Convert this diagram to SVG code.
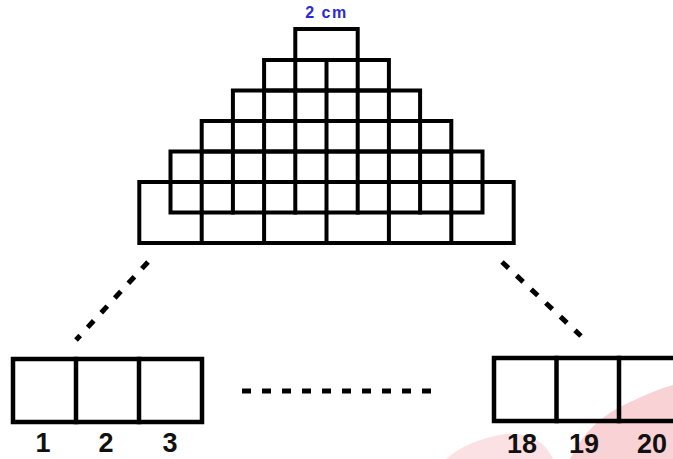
<svg xmlns="http://www.w3.org/2000/svg" width="673" height="459" viewBox="0 0 673 459">
  <style>
    .ln { fill: none; stroke: #000; stroke-width: 4; stroke-linejoin: miter; stroke-linecap: square; }
    .bx { fill: none; stroke: #000; stroke-width: 4.5; stroke-linejoin: miter; stroke-linecap: square; }
    .dash { fill: none; stroke: #000; stroke-width: 5; stroke-dasharray: 9 11; stroke-linecap: butt; }
    .num { font-family: "Liberation Sans", Arial, sans-serif; font-weight: bold; font-size: 27px; fill: #111; text-anchor: middle; }
    .dim { font-family: "Liberation Sans", Arial, sans-serif; font-weight: bold; font-size: 16px; fill: #2a2ad6; text-anchor: middle; letter-spacing: 1.5px; }
  </style>
  <rect x="0" y="0" width="673" height="459" fill="#fff"/>
  <g id="watermark">
    <path d="M 446 459 Q 468 440 505 434 Q 540 431 553 459 Z" fill="#fbe1e3"/>
    <path d="M 570 459 Q 588 421 628 403 Q 655 390 673 385 L 673 459 Z" fill="#f8d2d5"/>
  </g>
  <g id="pyramid">
    <g id="top-square">
      <rect class="ln" x="295.3" y="29" width="62.4" height="31"/>
      <text class="dim" x="326.5" y="18">2 cm</text>
    </g>
    <g id="row1">
      <rect class="ln" x="264.1" y="60" width="124.8" height="30.5"/>
      <path class="ln" d="M295.3 60V90.5M326.5 60V90.5M357.7 60V90.5"/>
    </g>
    <g id="row2">
      <rect class="ln" x="232.9" y="90.5" width="187.2" height="30.5"/>
      <path class="ln" d="M264.1 90.5V121M295.3 90.5V121M326.5 90.5V121M357.7 90.5V121M388.9 90.5V121"/>
    </g>
    <g id="row3">
      <rect class="ln" x="201.7" y="121" width="249.6" height="30.5"/>
      <path class="ln" d="M232.9 121V151.5M264.1 121V151.5M295.3 121V151.5M326.5 121V151.5M357.7 121V151.5M388.9 121V151.5M420.1 121V151.5"/>
    </g>
    <g id="row4">
      <rect class="ln" x="170.5" y="151.5" width="312" height="30.5"/>
      <path class="ln" d="M201.7 151.5V182M232.9 151.5V182M264.1 151.5V182M295.3 151.5V182M326.5 151.5V182M357.7 151.5V182M388.9 151.5V182M420.1 151.5V182M451.3 151.5V182"/>
    </g>
    <g id="row5">
      <rect class="ln" x="170.5" y="182" width="312" height="30.5"/>
      <path class="ln" d="M201.7 182V212.5M232.9 182V212.5M264.1 182V212.5M295.3 182V212.5M326.5 182V212.5M357.7 182V212.5M388.9 182V212.5M420.1 182V212.5M451.3 182V212.5"/>
    </g>
    <g id="base">
      <rect class="ln" x="139.3" y="182" width="374.4" height="61"/>
      <path class="ln" d="M201.7 212.5V243M264.1 212.5V243M326.5 212.5V243M388.9 212.5V243M451.3 212.5V243"/>
    </g>
  </g>
  <g id="left-strip">
    <rect class="bx" x="13" y="359" width="189" height="63"/>
    <path class="bx" d="M76 359V422M139 359V422"/>
    <text class="num" x="43" y="452">1</text>
    <text class="num" x="106" y="452">2</text>
    <text class="num" x="170" y="452">3</text>
  </g>
  <g id="right-strip">
    <rect class="bx" x="494" y="358" width="190" height="63"/>
    <path class="bx" d="M556.5 358V421M619 358V421"/>
    <text class="num" x="522" y="453">18</text>
    <text class="num" x="584" y="453">19</text>
    <text class="num" x="652" y="453">20</text>
  </g>
  <g id="connectors">
    <line class="dash" x1="148" y1="262" x2="76" y2="340"/>
    <line class="dash" x1="502" y1="262" x2="581" y2="336"/>
    <line class="dash" x1="242" y1="391" x2="431" y2="391"/>
  </g>
</svg>
